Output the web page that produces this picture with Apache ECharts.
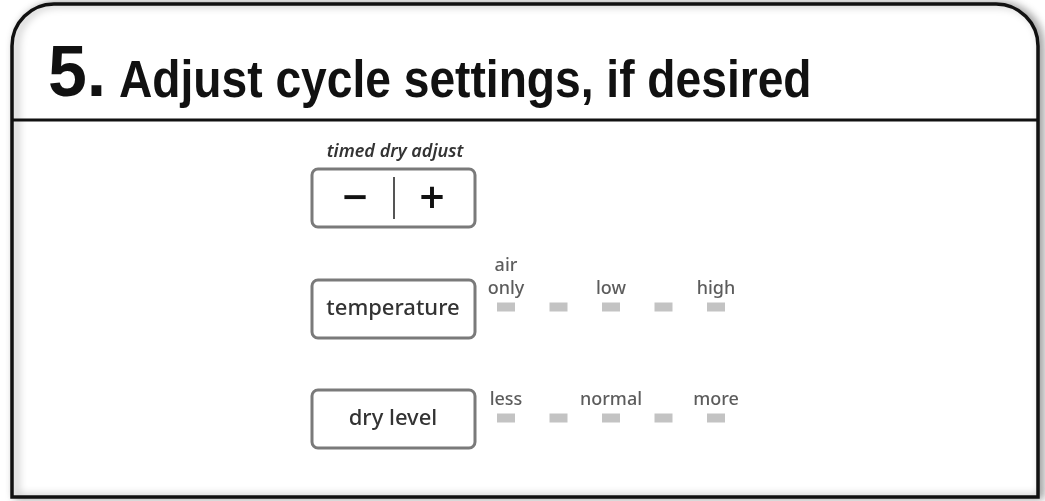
<!DOCTYPE html>
<html>
<head>
<meta charset="utf-8">
<script src="https://cdn.jsdelivr.net/npm/echarts@6/dist/echarts.min.js"></script>
<style>
html,body{margin:0;padding:0;background:#fff;}
#chart{width:1045px;height:501px;}
</style>
</head>
<body>
<div id="chart"></div>
<script>
// ---- data ----
const stepNumber = '5.';
const titleText = 'Adjust cycle settings, if desired';
const timedLabel = 'timed dry adjust';
const timedButtons = ['\u2212', '+'];
const controlNames = ['temperature', 'dry level'];
const positions = [0, 1, 2, 3, 4];
const temperatureLabels = ['air\nonly', '', 'low', '', 'high'];
const dryLevelLabels = ['less', '', 'normal', '', 'more'];
const rowValues = [1, 0]; // temperature row, dry level row

const smallFont = '"Noto Sans", "Open Sans", sans-serif';

function rowData(labels, row) {
  return positions.map((p, i) => ({
    value: [p, row],
    label: { formatter: labels[i] }
  }));
}

const chart = echarts.init(document.getElementById('chart'), null, { renderer: 'canvas' });

const graphic = [
  // outer frame
  {
    type: 'rect', z: 0,
    shape: { x: 12, y: 4, width: 1026, height: 493, r: [42, 42, 0, 0] },
    style: { fill: '#fff', stroke: '#111', lineWidth: 3.5,
      shadowColor: 'rgba(0,0,0,0.35)', shadowBlur: 8, shadowOffsetX: 4, shadowOffsetY: 0 }
  },
  // separator
  {
    type: 'line', z: 1,
    shape: { x1: 12, y1: 120, x2: 1038, y2: 120 },
    style: { stroke: '#111', lineWidth: 3 }
  },
  // title number
  {
    type: 'text', z: 2, x: 48, y: 40, scaleX: 0.97,
    style: { text: stepNumber, font: 'bold 72px "Liberation Sans", Arial, sans-serif',
      fill: '#111', verticalAlign: 'top' }
  },
  // title text
  {
    type: 'text', z: 2, x: 119, y: 57, scaleX: 0.905,
    style: { text: titleText, font: 'bold 51px "Liberation Sans", Arial, sans-serif',
      fill: '#111', verticalAlign: 'top' }
  },
  // timed dry adjust label
  {
    type: 'text', z: 2, x: 395, y: 152,
    style: { text: timedLabel, font: 'italic 600 18px ' + smallFont, fill: '#333',
      align: 'center', verticalAlign: 'middle' }
  },
  // timed dry adjust button
  {
    type: 'rect', z: 2,
    shape: { x: 312, y: 169, width: 163, height: 58, r: 6 },
    style: { fill: '#fff', stroke: '#7a7a7a', lineWidth: 3 }
  },
  {
    type: 'line', z: 3,
    shape: { x1: 394, y1: 177, x2: 394, y2: 219 },
    style: { stroke: '#555', lineWidth: 2 }
  },
  {
    type: 'text', z: 3, x: 355, y: 199,
    style: { text: timedButtons[0], font: 'bold 34px "DejaVu Sans", sans-serif', fill: '#111',
      align: 'center', verticalAlign: 'middle' }
  },
  {
    type: 'text', z: 3, x: 432, y: 199,
    style: { text: timedButtons[1], font: 'bold 34px "DejaVu Sans", sans-serif', fill: '#111',
      align: 'center', verticalAlign: 'middle' }
  }
];

const boxTops = [280, 390];
controlNames.forEach((name, i) => {
  graphic.push({
    type: 'rect', z: 2,
    shape: { x: 312, y: boxTops[i], width: 163, height: 58, r: 6 },
    style: { fill: '#fff', stroke: '#7a7a7a', lineWidth: 3 }
  });
  graphic.push({
    type: 'text', z: 3, x: 393, y: boxTops[i] + 29,
    style: { text: name, font: '500 22px ' + smallFont, fill: '#333',
      align: 'center', verticalAlign: 'middle' }
  });
});

const option = {
  backgroundColor: '#fff',
  animation: false,
  graphic: graphic,
  grid: { left: 506, width: 210, top: 307, height: 111 },
  xAxis: { type: 'value', min: 0, max: 4, show: false },
  yAxis: { type: 'value', min: 0, max: 1, show: false },
  series: [
    {
      type: 'scatter', z: 5,
      symbol: 'rect', symbolSize: [18, 9],
      itemStyle: { color: '#b4b4b4' },
      label: { show: true, position: 'top', distance: 2, color: '#333', fontWeight: 500,
        fontFamily: '"Noto Sans", "Open Sans", sans-serif', fontSize: 18, lineHeight: 23 },
      data: rowData(temperatureLabels, rowValues[0])
    },
    {
      type: 'scatter', z: 5,
      symbol: 'rect', symbolSize: [18, 9],
      itemStyle: { color: '#b4b4b4' },
      label: { show: true, position: 'top', distance: 2, color: '#333', fontWeight: 500,
        fontFamily: '"Noto Sans", "Open Sans", sans-serif', fontSize: 18, lineHeight: 23 },
      data: rowData(dryLevelLabels, rowValues[1])
    }
  ]
};
chart.setOption(option);
</script>
</body>
</html>
